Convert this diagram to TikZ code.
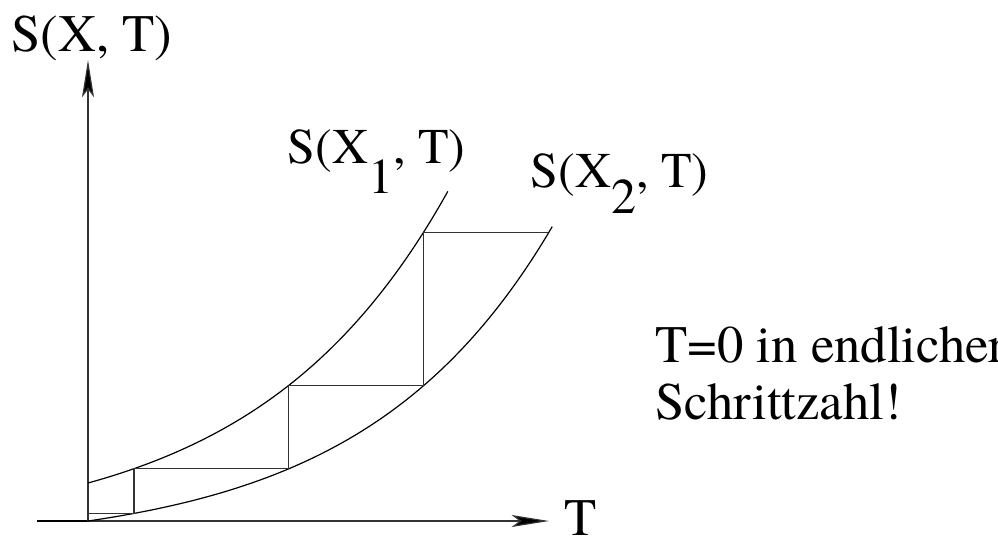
\documentclass[tikz,border=0pt]{standalone}
\usepackage{fontspec}
\setmainfont{texgyretermes}[Extension=.otf, UprightFont=*-regular, BoldFont=*-bold, ItalicFont=*-italic]
\usetikzlibrary{arrows.meta}
\begin{document}
\begin{tikzpicture}[x=0.75pt,y=-0.75pt, line width=0.9pt,
  lbl/.style={anchor=base west, inner sep=0pt, font=\rmfamily\fontsize{37.5}{43}\selectfont},
  biglbl/.style={lbl, font=\rmfamily\fontsize{39.5}{45}\selectfont},
  axisarrow/.style={-{Stealth[length=28pt,width=9pt,inset=6pt,fill=black]}},
  curve/.style={line width=0.9pt},
  stepline/.style={line width=0.9pt, black!80}]
\useasboundingbox (0,0) rectangle (998,542);
% axes
\coordinate (O) at (88,521);
\coordinate (xs) at (37,521);
\coordinate (xe) at (549,521);
\coordinate (ye) at (88,60);
\draw[line width=1.6pt] (xs) -- (O);
\draw[axisarrow, black!80] (O) -- (xe);
\draw[axisarrow, black!80] (O) -- (ye);
% curves
\draw[curve] plot[domain=0:359.8,samples=90] ({88+\x},{521-(53*exp(0.0052*\x)-15)});
\draw[curve] plot[domain=0:464.2,samples=90] ({88+\x},{521-27.56*(exp(0.0053*\x)-1)});
% steps
\coordinate (a0) at (88,513.4);
\coordinate (a1) at (134,513.4);
\coordinate (a2) at (134,468.7);
\coordinate (a3) at (288.8,468.7);
\coordinate (a4) at (288.8,385.4);
\coordinate (a5) at (423.5,385.4);
\coordinate (a6) at (423.5,232.7);
\coordinate (a7) at (548.2,232.7);
\draw[stepline] (a0) -- (a1) -- (a2) -- (a3) -- (a4) -- (a5) -- (a6) -- (a7);
% labels
\node[biglbl] (lab) at (11,51) {S(X, T)};
\node[lbl] (l1) at (287,163) {S(X\raisebox{-0.6em}{1}, T)};
\node[lbl] (l2) at (530,187) {S(X\raisebox{-0.52em}{2}, T)};
\node[biglbl] (tl) at (564,535) {T};
\node[biglbl] (note1) at (655,362) {T=0 in endlicher};
\node[biglbl] (note2) at (655,419) {Schrittzahl!};
\end{tikzpicture}
\end{document}
